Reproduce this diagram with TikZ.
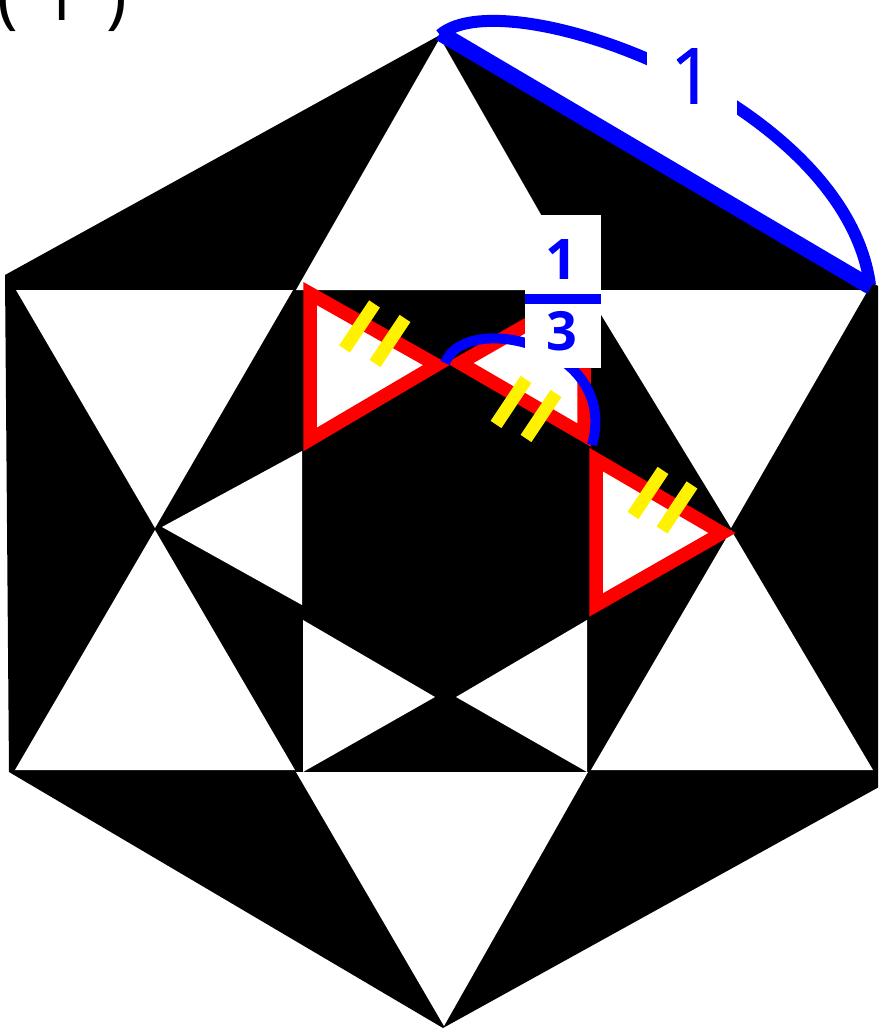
\documentclass[tikz,border=0pt]{standalone}
\usepackage{fontspec}
\setmainfont{Open Sans}
\newfontfamily\medfont[FakeBold=1]{Open Sans}
\begin{document}
\begin{tikzpicture}[x=1pt,y=-1pt,
  whitetri/.style={fill=white},
  redtri/.style={fill=white,draw=red,line width=13.5pt,line join=miter},
  yellowtick/.style={draw=yellow,line width=13pt},
  bluethick/.style={draw=blue,line width=16pt},
  bluearc/.style={draw=blue,line width=12pt},
  bluearcsmall/.style={draw=blue,line width=10pt},
  labbox/.style={fill=white,inner sep=0pt},
  bluetext/.style={text=blue,inner sep=0pt}]
\useasboundingbox (0,0) rectangle (878,1030);
\clip (0,0) rectangle (878,1030);
% outer hexagon
\coordinate (T) at (440,35);
\coordinate (UR) at (878,286);
\coordinate (LR) at (879,787);
\coordinate (B) at (443,1028);
\coordinate (LL) at (9,772);
\coordinate (UL) at (5,275);
\fill[black] (T) -- (UR) -- (LR) -- (B) -- (LL) -- (UL) -- cycle;
% white star points
\fill[whitetri] (440,38) -- (296,290) -- (584,290) -- cycle;
\fill[whitetri] (16,290) -- (293,290) -- (155,528) -- cycle;
\fill[whitetri] (586,290) -- (868,290) -- (731,528) -- cycle;
\fill[whitetri] (155,530) -- (15,770) -- (295,770) -- cycle;
\fill[whitetri] (731,530) -- (591,770) -- (873,770) -- cycle;
\fill[whitetri] (296,772) -- (588,772) -- (444,1026) -- cycle;
% inner white triangles
\fill[whitetri] (302,451) -- (302,605) -- (162,527) -- cycle;
\fill[whitetri] (303,620) -- (303,772) -- (435,697) -- cycle;
\fill[whitetri] (587,620) -- (587,772) -- (456,697) -- cycle;
% red triangles
\filldraw[redtri] (310,293.5) -- (310,439.5) -- (436.5,365) -- cycle;
\filldraw[redtri] (460,363) -- (584,292) -- (584,435) -- cycle;
\filldraw[redtri] (596,459.5) -- (596,605) -- (722,533) -- cycle;
% yellow ticks
\foreach \cx/\cy in {359.5/326.5, 390/341, 511/402, 541/416, 648/493, 677/507.5}
  \draw[yellowtick] (\cx-15,\cy+22.5) -- (\cx+15,\cy-22.5);
% blue side of length 1
\draw[bluethick] (440,33) -- (871,287);
\draw[bluearc] (T) .. controls (505,-22) and (845,100) .. (870,285);
% blue arc for 1/3
\draw[bluearcsmall] (445,363) .. controls (465,310) and (620,345) .. (592,445);
% labels
\node[labbox,minimum width=90pt,minimum height=100pt,text=blue,
      font=\medfont\fontsize{77}{80}\selectfont] (lab1) at (692,76) {1};
\node[labbox,minimum width=76pt,minimum height=153pt] (lab3) at (563,291.5) {};
\node[bluetext,font=\bfseries\fontsize{56}{60}\selectfont] (num) at (561,260) {1};
\node[bluetext,font=\bfseries\fontsize{54}{60}\selectfont] (den) at (562,331) {3};
\coordinate (barL) at (525,299);
\coordinate (barR) at (601,299);
\draw[blue,line width=10pt] (barL) -- (barR);
\node[anchor=base west,inner sep=0pt,font=\fontsize{70}{72}\selectfont] (tag) at (-3,21) {(\hspace{23pt}1\hspace{26pt})};
\end{tikzpicture}
\end{document}
